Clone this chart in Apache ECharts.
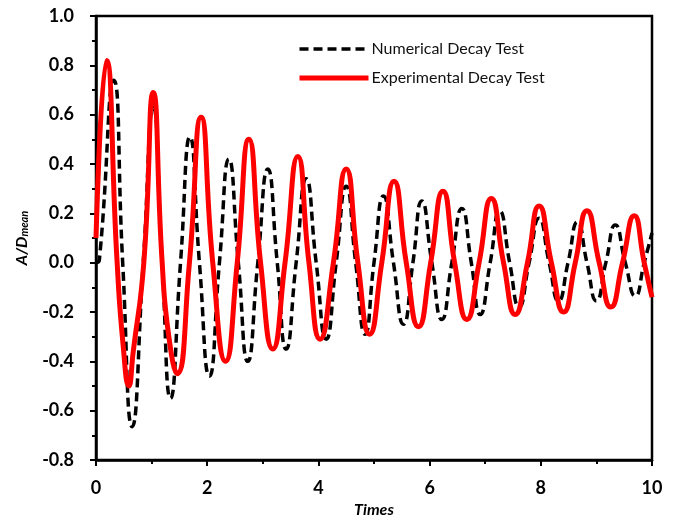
<!DOCTYPE html>
<html>
<head>
<meta charset="utf-8">
<script src="https://cdn.jsdelivr.net/npm/echarts@6/dist/echarts.min.js"></script>
<style>
html,body{margin:0;padding:0;background:#fff;}
#chart{width:677px;height:517px;}
</style>
</head>
<body>
<div id="chart"></div>
<script>
const seriesNames = ['Numerical Decay Test', 'Experimental Decay Test'];
const xTicks = [0, 2, 4, 6, 8, 10];
const yTicks = [-0.8, -0.6, -0.4, -0.2, 0.0, 0.2, 0.4, 0.6, 0.8, 1.0];

// Numerical decay test: [time, A/Dmean]
const numerical = [
  [0,0],[0.06,0.01],[0.32,0.74],[0.48,0.0],[0.65,-0.665],[0.85,0.0],[1.03,0.63],[1.19,0.0],
  [1.34,-0.55],[1.52,0.0],[1.69,0.51],[1.86,0.0],[2.04,-0.46],[2.22,0.0],[2.39,0.42],
  [2.56,0.0],[2.73,-0.40],[2.91,0.0],[3.09,0.38],[3.26,0.0],[3.42,-0.35],[3.60,0.0],
  [3.78,0.34],[3.96,0.0],[4.14,-0.31],[4.32,0.0],[4.50,0.31],[4.67,0.0],[4.84,-0.29],
  [5.00,0.0],[5.17,0.27],[5.35,0.0],[5.53,-0.25],[5.70,0.0],[5.86,0.25],[6.04,0.0],
  [6.22,-0.23],[6.40,0.0],[6.58,0.22],[6.75,0.0],[6.91,-0.21],[7.09,0.0],[7.26,0.21],
  [7.44,0.0],[7.61,-0.18],[7.79,0.0],[7.97,0.18],[8.15,0.0],[8.32,-0.155],[8.49,0.0],
  [8.66,0.165],[8.83,0.0],[9.00,-0.155],[9.17,0.0],[9.34,0.153],[9.52,0.0],[9.70,-0.135],
  [9.86,0.0],[10.0,0.12]
];

// Experimental decay test: [time, A/Dmean]
const experimental = [
  [0,0.10],[0.19,0.82],[0.38,0.0],[0.49,-0.34],[0.59,-0.50],[0.67,-0.36],[0.86,0.0],
  [1.03,0.69],[1.19,0.0],[1.31,-0.30],[1.46,-0.45],[1.68,0.0],[1.89,0.59],[2.10,0.0],
  [2.33,-0.40],[2.54,0.0],[2.75,0.50],[2.96,0.0],[3.18,-0.35],[3.40,0.0],[3.63,0.43],
  [3.83,0.0],[4.03,-0.31],[4.27,0.0],[4.50,0.38],[4.71,0.0],[4.92,-0.29],[5.14,0.0],
  [5.36,0.33],[5.58,0.0],[5.80,-0.26],[6.02,0.0],[6.24,0.29],[6.45,0.0],[6.67,-0.23],
  [6.89,0.0],[7.11,0.26],[7.33,0.0],[7.54,-0.21],[7.76,0.0],[7.97,0.23],[8.19,0.0],
  [8.41,-0.20],[8.62,0.0],[8.83,0.21],[9.05,0.0],[9.26,-0.18],[9.47,0.0],[9.68,0.19],
  [9.86,0.0],[10.0,-0.14]
];

const FONT = 'Lato, "Open Sans", sans-serif';
const chart = echarts.init(document.getElementById('chart'), null, {renderer: 'canvas'});
chart.setOption({
  backgroundColor: '#fff',
  animation: false,
  grid: {left: 96, right: 25, top: 16, bottom: 57, outerBoundsMode: 'none', containLabel: false,
    show: true, borderColor: '#000', borderWidth: 2.5, backgroundColor: 'transparent'},
  legend: {
    data: [
      {name: seriesNames[0], lineStyle: {width: 3.5}},
      {name: seriesNames[1], lineStyle: {width: 5}}
    ],
    orient: 'vertical',
    left: 292, top: 36,
    itemWidth: 69, itemHeight: 14, itemGap: 13,
    itemStyle: {opacity: 0},
    textStyle: {fontFamily: FONT, fontSize: 16, color: '#111', padding: [0,0,0,-2]}
  },
  xAxis: {
    type: 'value', min: xTicks[0], max: xTicks[xTicks.length-1], interval: 2,
    name: 'Times', nameLocation: 'middle', nameGap: 41,
    nameTextStyle: {fontFamily: FONT, fontSize: 16, fontWeight: 'bold', fontStyle: 'italic', color: '#000'},
    axisLine: {onZero: false, lineStyle: {color: '#000', width: 2.5}},
    axisTick: {show: true, inside: false, length: 6, lineStyle: {color: '#000', width: 2}},
    minorTick: {show: true, splitNumber: 2, length: 4, lineStyle: {color: '#000', width: 2}},
    axisLabel: {fontFamily: FONT, fontSize: 18, fontWeight: 'bold', color: '#000', margin: 19},
    splitLine: {show: false}
  },
  yAxis: {
    type: 'value', min: yTicks[0], max: yTicks[yTicks.length-1], interval: 0.2,
    name: '{a|A/D}{s|mean}', nameLocation: 'middle', nameGap: 66, nameRotate: 90,
    nameTextStyle: {
      fontFamily: FONT, fontSize: 16, fontWeight: 'bold', fontStyle: 'italic', color: '#000',
      rich: {
        a: {fontFamily: FONT, fontSize: 16, fontWeight: 'bold', fontStyle: 'italic', color: '#000'},
        s: {fontFamily: FONT, fontSize: 11, fontWeight: 'bold', fontStyle: 'italic', color: '#000', verticalAlign: 'bottom', padding: [6,0,0,0]}
      }
    },
    axisLine: {onZero: false, lineStyle: {color: '#000', width: 2.5}},
    axisTick: {show: true, inside: false, length: 6, lineStyle: {color: '#000', width: 2}},
    minorTick: {show: true, splitNumber: 2, length: 4, lineStyle: {color: '#000', width: 2}},
    axisLabel: {fontFamily: FONT, fontSize: 18, fontWeight: 'bold', color: '#000', margin: 22,
      formatter: v => v.toFixed(1)},
    splitLine: {show: false}
  },
  series: [
    {
      name: seriesNames[0], type: 'line', data: numerical, showSymbol: false, symbol: 'none',
      smooth: 0.55,
      lineStyle: {color: '#000', width: 3.5, type: [9, 5]},
      itemStyle: {color: '#000'}, z: 2
    },
    {
      name: seriesNames[1], type: 'line', data: experimental, showSymbol: false, symbol: 'none',
      smooth: 0.55,
      lineStyle: {color: '#ff0000', width: 5},
      itemStyle: {color: '#ff0000'}, z: 3
    }
  ]
});
</script>
</body>
</html>
